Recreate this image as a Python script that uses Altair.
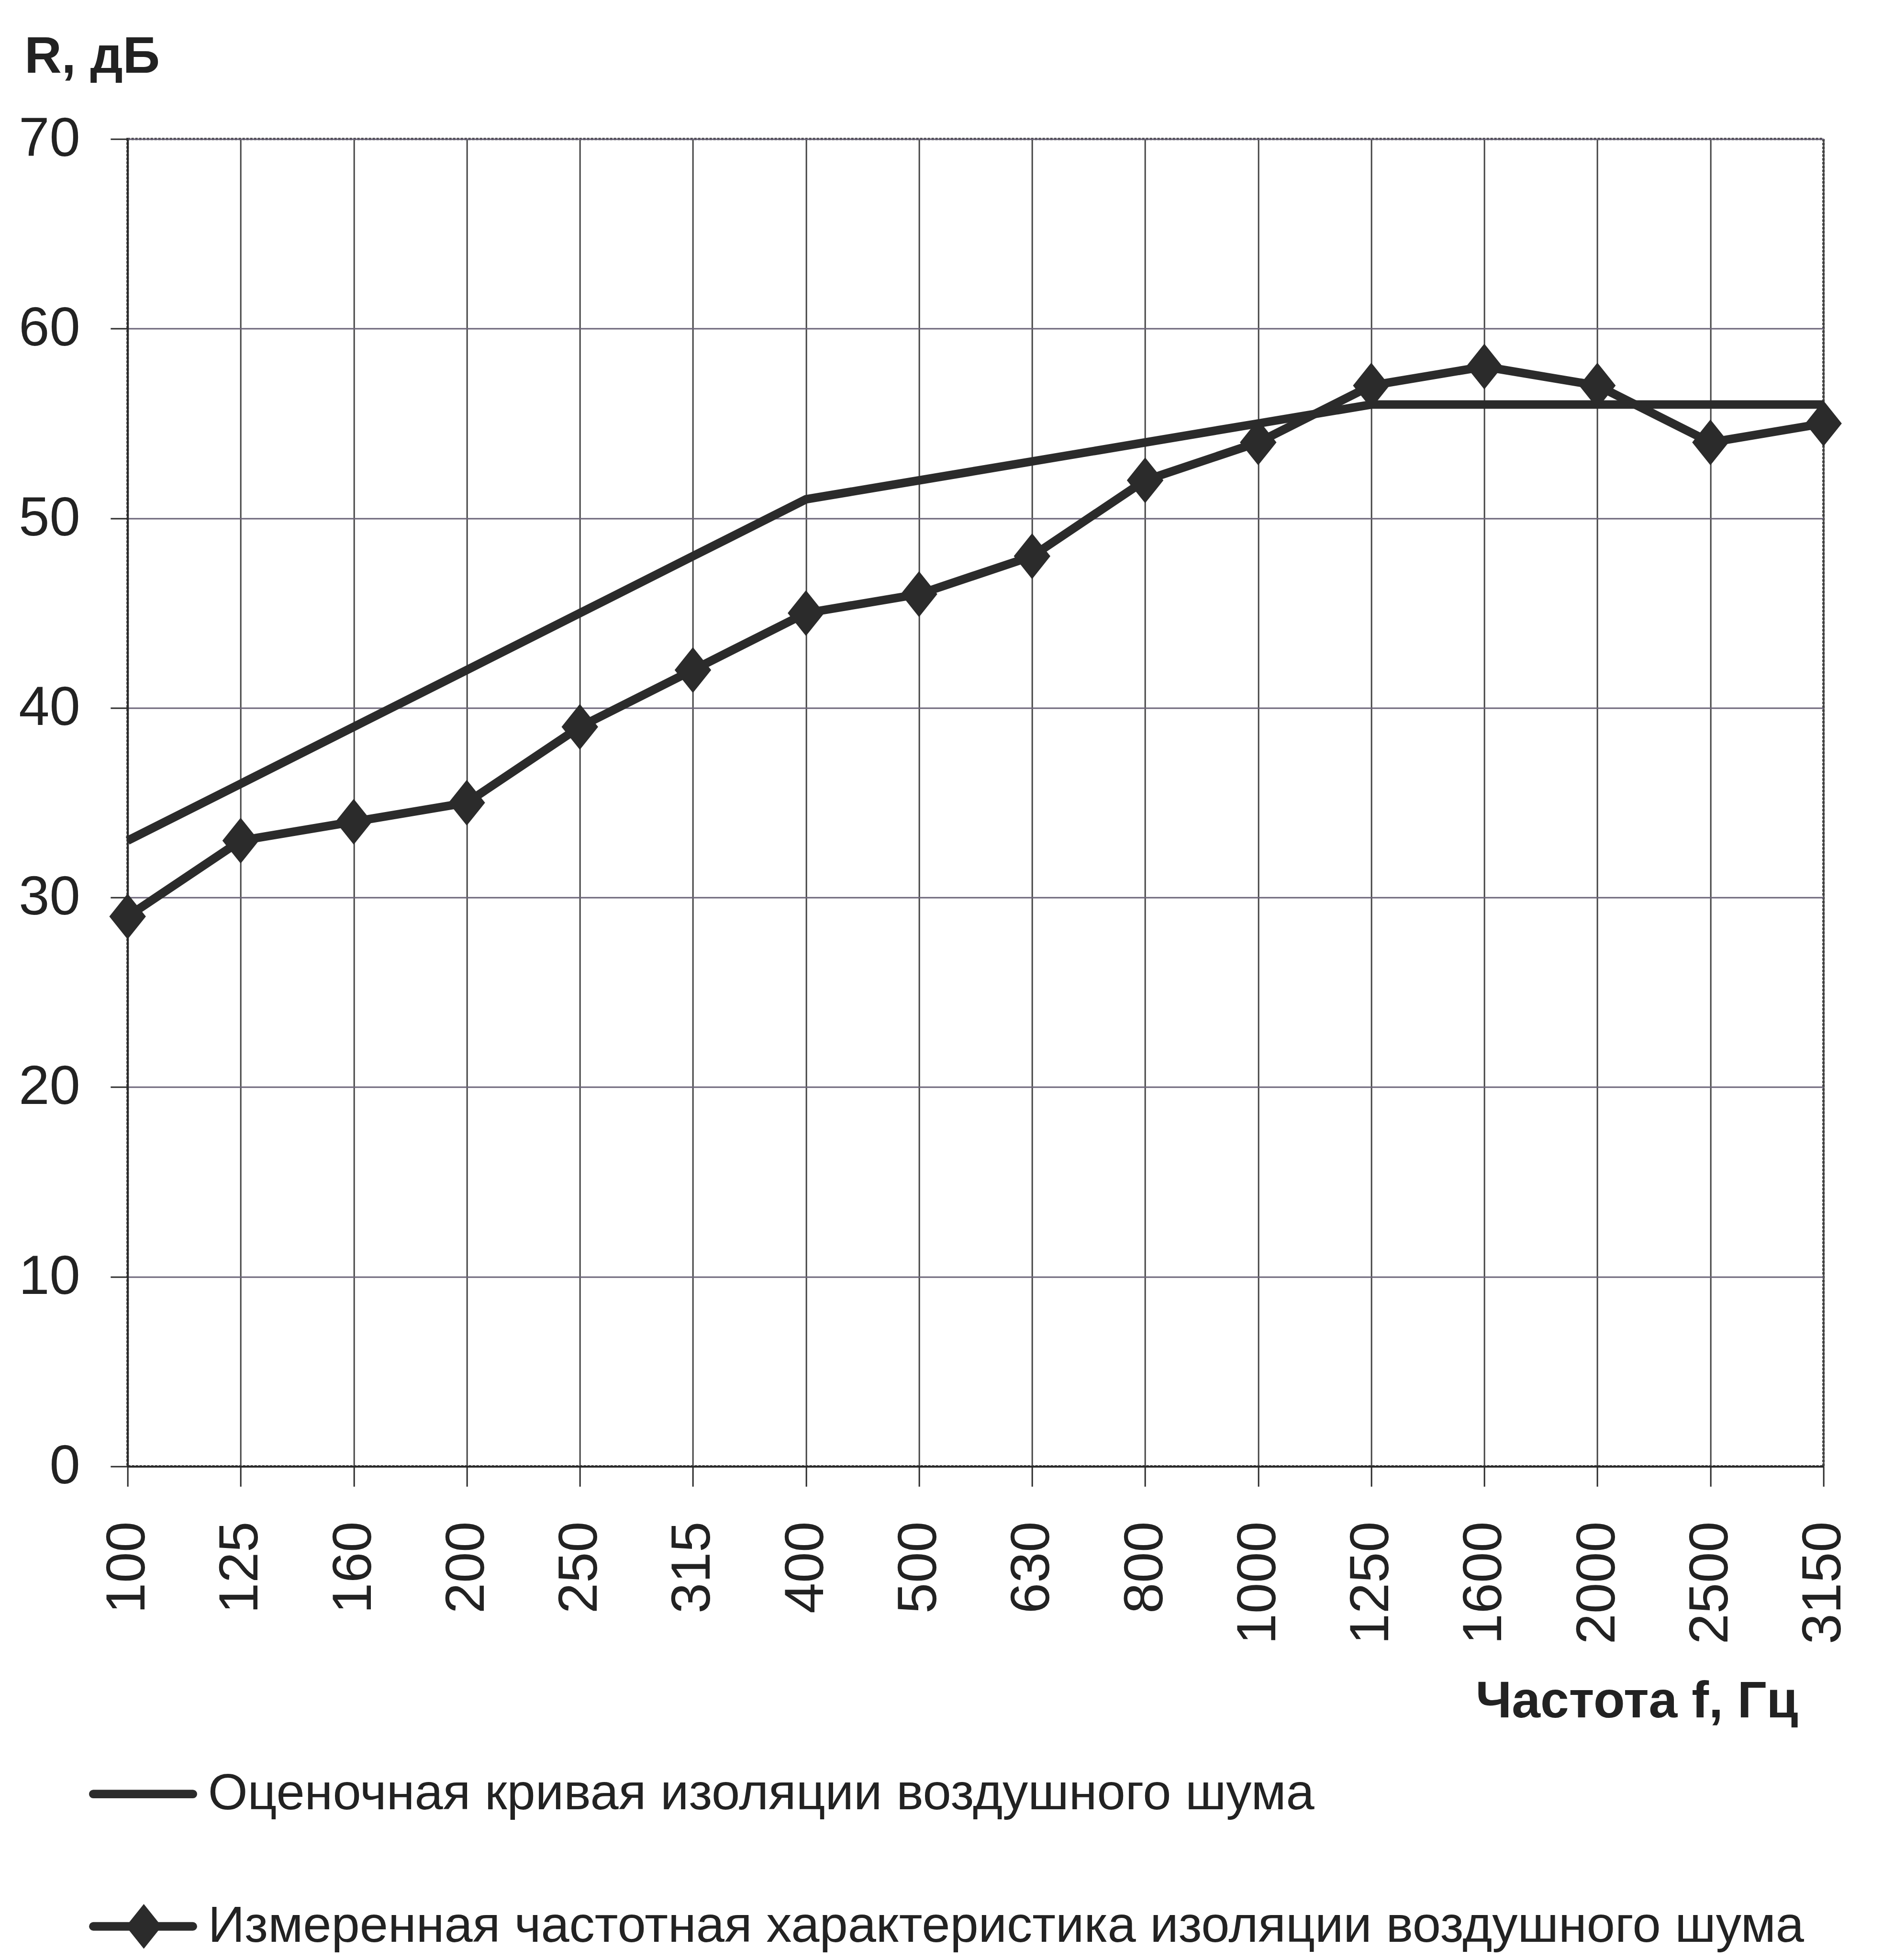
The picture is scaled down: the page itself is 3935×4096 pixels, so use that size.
import altair as alt
import pandas as pd

# ---- data ----
freqs = ["100", "125", "160", "200", "250", "315", "400", "500",
         "630", "800", "1000", "1250", "1600", "2000", "2500", "3150"]
rating = [33, 36, 39, 42, 45, 48, 51, 52, 53, 54, 55, 56, 56, 56, 56, 56]
measured = [29, 33, 34, 35, 39, 42, 45, 46, 48, 52, 54, 57, 58, 57, 54, 55]
series_names = ["Оценочная кривая изоляции воздушного шума",
                "Измеренная частотная характеристика изоляции воздушного шума"]
y_ticks = [0, 10, 20, 30, 40, 50, 60, 70]
x_title = "Частота f, Гц"
y_title = "R, дБ"

S = 0.995
W = round(3562 * S)
H = round(2788 * S)
DARK = "#2b2b2b"
FONT = "Liberation Sans, Arial, sans-serif"
DIAMOND = "M0,-1L0.8,0L0,1L-0.8,0Z"

df = pd.DataFrame(
    [{"freq": f, "R": v, "series": series_names[0]} for f, v in zip(freqs, rating)]
    + [{"freq": f, "R": v, "series": series_names[1]} for f, v in zip(freqs, measured)]
)

x_enc = alt.X("freq:O", sort=freqs, scale=alt.Scale(padding=0),
              axis=alt.Axis(title=x_title, labelAngle=270, labelLimit=0,
                            titleX=(3776 - 268) * S, titleY=(3607 - 3080) * S,
                            titleAlign="right", titleBaseline="alphabetic",
                            titleAnchor="start", titleLimit=0))
y_enc = alt.Y("R:Q", scale=alt.Scale(domain=[0, 70], nice=False, zero=True),
              axis=alt.Axis(title=y_title, values=y_ticks, titleAngle=0, labelLimit=0,
                            titleX=(51 - 268) * S, titleY=(152 - 292) * S,
                            titleAlign="left", titleBaseline="alphabetic",
                            titleAnchor="start", titleLimit=0))

lines = alt.Chart(df).mark_line(strokeWidth=18 * S, color=DARK, strokeJoin="miter").encode(
    x=x_enc, y=y_enc, detail="series:N"
)

points = alt.Chart(df[df["series"] == series_names[1]]).mark_point(
    shape=DIAMOND, filled=True, color=DARK, opacity=1,
    size=(96 * S) ** 2
).encode(x=alt.X("freq:O", sort=freqs), y="R:Q")

# ---- manual legend below the chart ----
leg_df1 = pd.DataFrame({"label": [series_names[0]]})
leg_df2 = pd.DataFrame({"label": [series_names[1]]})

row1_line_y = (3768 - 292) * S
row1_text_y = (3800 - 292) * S
row2_line_y = (4046 - 292) * S
row2_text_y = (4078 - 292) * S
lx1 = (196 - 268) * S
lx2 = (405 - 268) * S
tx = (437 - 268) * S
LEG_FS = 107 * S

leg_line1 = alt.Chart(leg_df1).mark_rule(color=DARK, strokeWidth=18 * S, strokeCap="round").encode(
    x=alt.value(lx1), x2=alt.value(lx2), y=alt.value(row1_line_y))
leg_text1 = alt.Chart(leg_df1).mark_text(
    align="left", baseline="alphabetic", font=FONT, fontSize=LEG_FS, color="#222").encode(
    x=alt.value(tx), y=alt.value(row1_text_y), text="label:N")
leg_line2 = alt.Chart(leg_df2).mark_rule(color=DARK, strokeWidth=18 * S, strokeCap="round").encode(
    x=alt.value(lx1), x2=alt.value(lx2), y=alt.value(row2_line_y))
leg_pt2 = alt.Chart(leg_df2).mark_point(
    shape=DIAMOND, filled=True, color=DARK, opacity=1,
    size=(94 * S) ** 2).encode(
    x=alt.value((302 - 268) * S), y=alt.value(row2_line_y))
leg_text2 = alt.Chart(leg_df2).mark_text(
    align="left", baseline="alphabetic", font=FONT, fontSize=LEG_FS, color="#222").encode(
    x=alt.value(tx), y=alt.value(row2_text_y), text="label:N")

chart = alt.layer(
    lines, points, leg_line1, leg_text1, leg_line2, leg_pt2, leg_text2
).properties(
    width=W, height=H,
    autosize=alt.AutoSizeParams(type="none"),
    padding={"left": 268 * S - 8, "top": 292 * S - 8, "right": 110, "bottom": 1020},
    background="white",
).configure_view(
    stroke="#333", strokeWidth=5, strokeDash=[5, 3]
).configure_axis(
    grid=True,
    domainColor=DARK, domainWidth=4,
    tickColor=DARK, tickWidth=3,
    labelFont=FONT, labelColor="#222",
    titleFont=FONT,
    titleFontWeight="bold", titleColor="#222", titleFontSize=108 * S,
    labelFontSize=116 * S,
).configure_axisX(
    gridColor="#444", gridWidth=3,
    tickSize=42 * S, labelPadding=73 * S,
).configure_axisY(
    gridColor="#6b6478", gridWidth=3,
    tickSize=36 * S, labelPadding=64 * S,
)

chart.save("out.html", embed_options={"renderer": "svg", "actions": False})
